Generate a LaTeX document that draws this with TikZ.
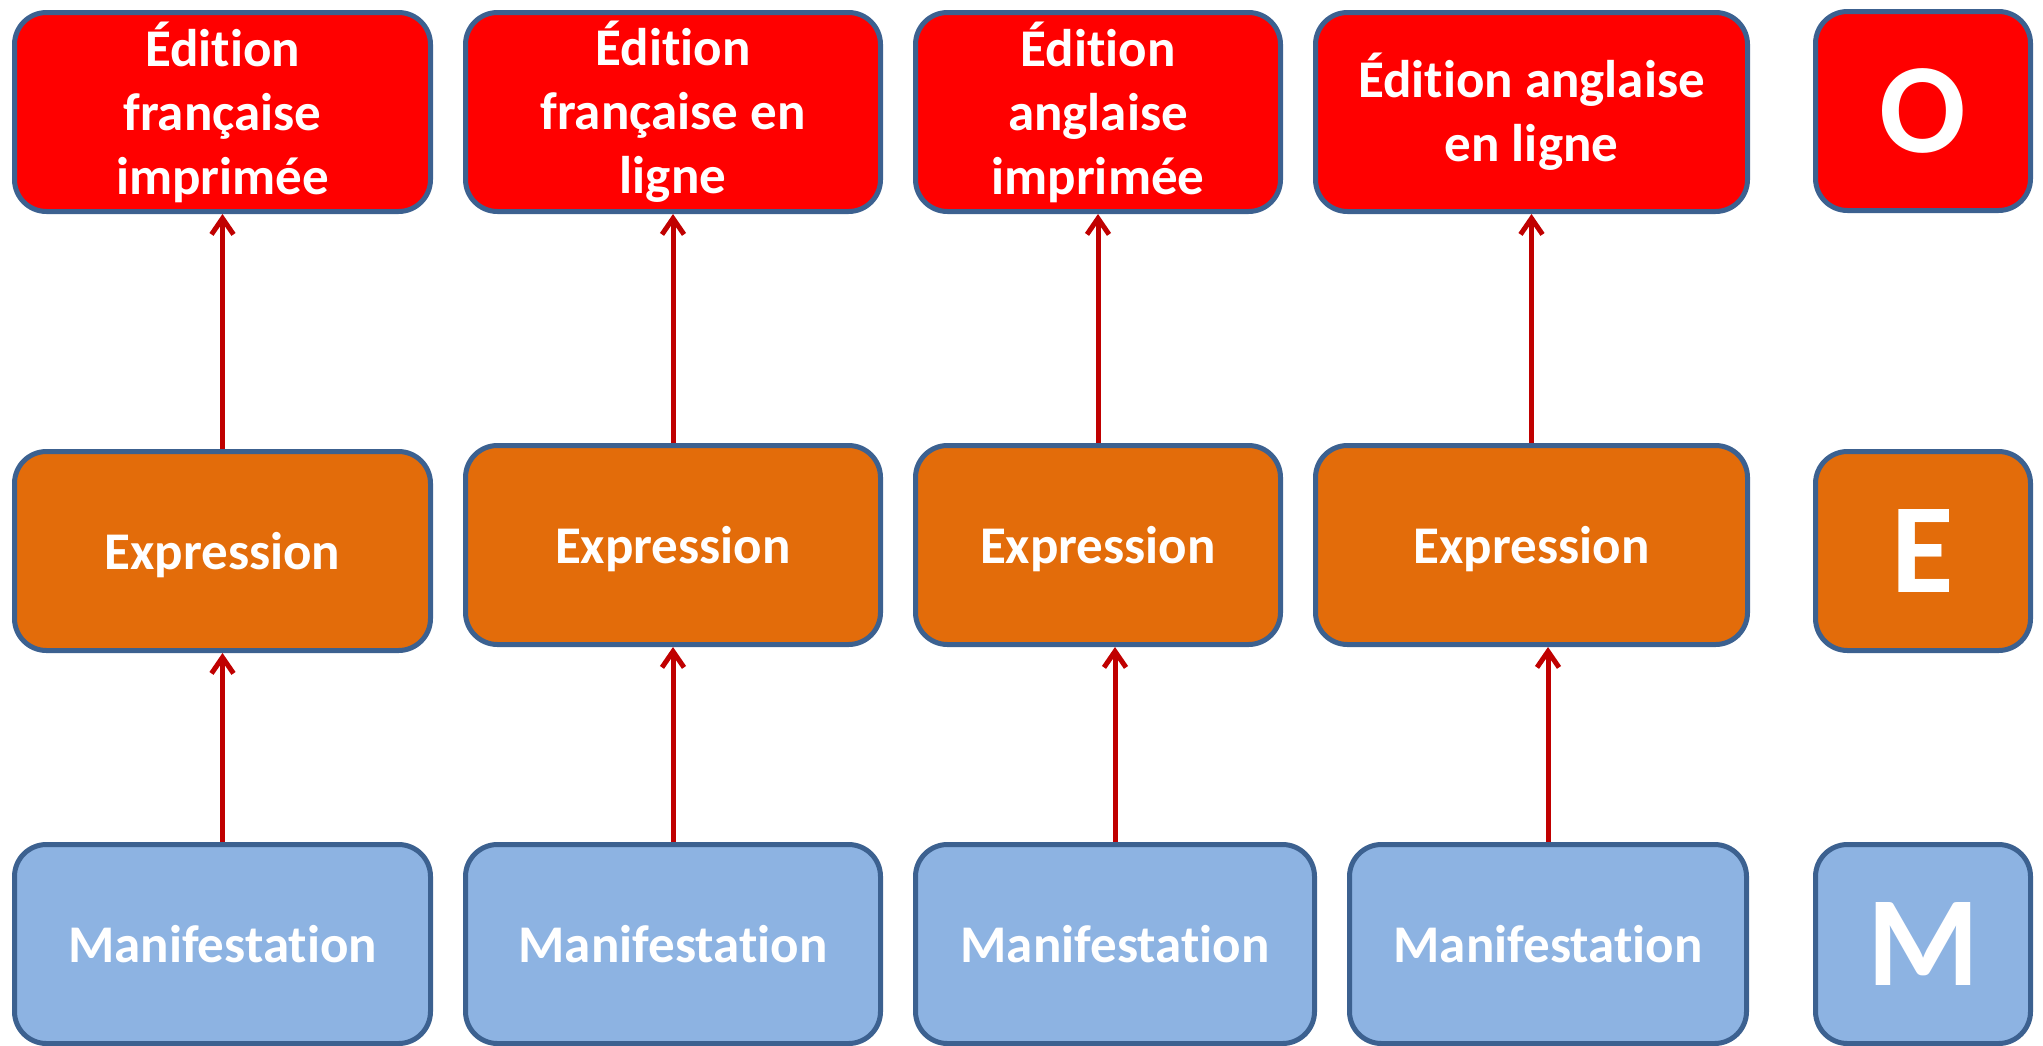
\documentclass[tikz,border=0pt]{standalone}
\usepackage{fontspec}
\setmainfont{Carlito}[Ligatures=NoCommon,RawFeature={-liga;-clig;-calt}]
\usetikzlibrary{arrows.meta}
\definecolor{bordercol}{HTML}{3C6190}
\definecolor{redfill}{HTML}{FF0000}
\definecolor{orangefill}{HTML}{E36C0A}
\definecolor{bluefill}{HTML}{8DB3E2}
\definecolor{arrowcol}{HTML}{C00000}
\newcommand{\tinolig}{t\kern0pt i}
\tikzset{
  box/.style={draw=bordercol, line width=2.5pt, rounded corners=16pt, text=white,
    font=\bfseries\fontsize{26.5}{32}\selectfont, align=center, inner sep=0pt,
    minimum height=99.5pt},
  redbox/.style={box, fill=redfill},
  orangebox/.style={box, fill=orangefill, text depth=0pt},
  bluebox/.style={box, fill=bluefill, text depth=0pt},
  letter/.style={font=\bfseries\fontsize{64}{64}\selectfont, text depth=0pt, minimum width=107.5pt},
  conn/.style={draw=arrowcol, line width=2.5pt, -{Straight Barb[length=8pt,width=11pt]}}
}
\begin{document}
\begin{tikzpicture}[x=0.5pt,y=-0.5pt]
\useasboundingbox (0,0) rectangle (2043,1045);
% top row (O)
\node[redbox, minimum width=208pt]   (o1) at (222.5,112) {Édi\tinolig on\\française\\imprimée};
\node[redbox, minimum width=207.5pt] (o2) at (673,112)   {Édi\tinolig on\\française en\\ligne};
\node[redbox, minimum width=182.5pt] (o3) at (1098,112)  {Édi\tinolig on\\anglaise\\imprimée};
\node[redbox, minimum width=216pt]   (o4) at (1531.5,112) {Édi\tinolig on anglaise\\en ligne};
\node[redbox, letter] (oL) at (1923,111) {O};
% middle row (E)
\node[orangebox, minimum width=208pt]   (e1) at (222.5,551) {Expression};
\node[orangebox, minimum width=207.5pt] (e2) at (673,545)   {Expression};
\node[orangebox, minimum width=182.5pt] (e3) at (1098,545)  {Expression};
\node[orangebox, minimum width=216pt]   (e4) at (1531.5,545) {Expression};
\node[orangebox, letter] (eL) at (1923,551) {E};
% bottom row (M)
\node[bluebox, minimum width=208pt]   (m1) at (222.5,944) {Manifesta\tinolig on};
\node[bluebox, minimum width=207.5pt] (m2) at (673,944)   {Manifesta\tinolig on};
\node[bluebox, minimum width=199.5pt] (m3) at (1115,944)  {Manifesta\tinolig on};
\node[bluebox, minimum width=198.5pt] (m4) at (1548,944)  {Manifesta\tinolig on};
\node[bluebox, letter] (mL) at (1923,944) {M};
% connectors
\draw[conn] (e1.north) -- (o1.south);
\draw[conn] (e2.north) -- (o2.south);
\draw[conn] (e3.north) -- (o3.south);
\draw[conn] (e4.north) -- (o4.south);
\draw[conn] (m1.north) -- (e1.south);
\draw[conn] (m2.north) -- (e2.south);
\draw[conn] (m3.north) -- (m3.north |- e3.south);
\draw[conn] (m4.north) -- (m4.north |- e4.south);
\end{tikzpicture}
\end{document}
